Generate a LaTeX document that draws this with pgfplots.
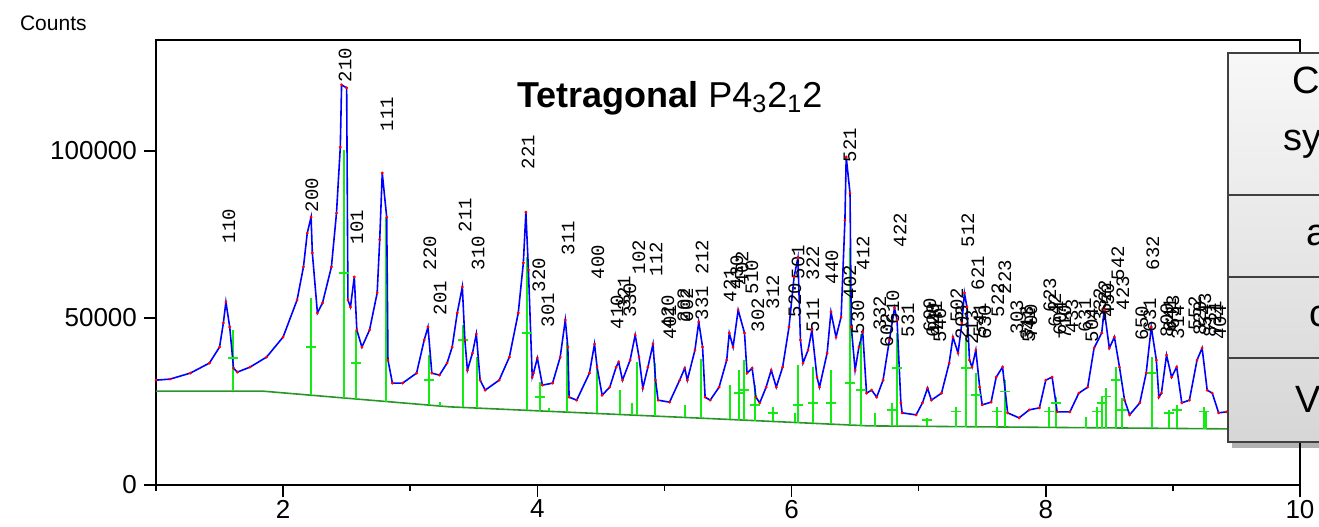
\documentclass[border=0pt]{standalone}
\usepackage{fontspec}
\setmainfont{Liberation Sans}
\newfontfamily\hklfont{Liberation Mono}
\usepackage{pgfplots}
\pgfplotsset{compat=1.18}
\usetikzlibrary{shadows}

\definecolor{calcblue}{RGB}{0,0,255}
\definecolor{obsred}{RGB}{255,0,0}
\definecolor{bggreen}{RGB}{40,150,40}
\definecolor{tickgreen}{RGB}{20,235,20}
\definecolor{tabline}{RGB}{64,64,64}

% hkl label placed at a pixel position of the original figure
\newcommand{\hkl}[3]{\node[hkl] at (rel axis cs:{(#1-156)/1144},{(485-#2)/445}) {#3};}

\begin{document}
\begin{tikzpicture}[hkl/.style={font=\hklfont\fontsize{9.5}{10}\selectfont, rotate=90, inner sep=0pt, anchor=center}]
\begin{axis}[
    name=ax,
    scale only axis, width=572pt, height=222.5pt,
    xmin=1, xmax=10, ymin=0, ymax=133233,
    axis line style={line width=1.25pt},
    tick style={black, line width=0.8pt},
    tick align=outside, major tick length=6pt, minor tick length=3pt,
    xtick={2,4,6,8,10}, minor xtick={1,3,5,7,9},
    xticklabels={2,4,6,8,10},
    ytick={0,50000,100000}, yticklabels={0,50000,100000},
    scaled y ticks=false,
    xtick pos=bottom, ytick pos=left,
    ticklabel style={font=\fontsize{13}{15}\selectfont},
    xticklabel style={yshift=2pt},
    clip=false,
    unbounded coords=jump,
]

% background
\addplot[bggreen, line width=0.8pt] coordinates {
(1.0,28100) (1.84,28100) (3.31,23400) (5.41,19800) (6.61,17700) (9.6,16750)};

% reflection positions
\addplot[tickgreen, line width=1pt] coordinates {
(1.605,28100) (1.605,46400) (1.605,nan)
(2.219,26900) (2.219,56000) (2.219,nan)
(2.478,26060) (2.478,100300) (2.478,nan)
(2.572,25760) (2.572,46400) (2.572,nan)
(2.808,25000) (2.808,80200) (2.808,nan)
(3.146,23925) (3.146,38900) (3.146,nan)
(3.233,23650) (3.233,25000) (3.233,nan)
(3.414,23220) (3.414,47900) (3.414,nan)
(3.524,23030) (3.524,38300) (3.524,nan)
(3.917,22360) (3.917,68300) (3.917,nan)
(4.019,22185) (4.019,30800) (4.019,nan)
(4.090,22060) (4.090,23000) (4.090,nan)
(4.231,21820) (4.231,42800) (4.231,nan)
(4.467,21420) (4.467,35900) (4.467,nan)
(4.648,21110) (4.648,28400) (4.648,nan)
(4.742,20950) (4.742,24600) (4.742,nan)
(4.782,20880) (4.782,36800) (4.782,nan)
(4.923,20635) (4.923,36500) (4.923,nan)
(5.159,20230) (5.159,24000) (5.159,nan)
(5.285,20015) (5.285,37700) (5.285,nan)
(5.513,19620) (5.513,30000) (5.513,nan)
(5.583,19500) (5.583,34400) (5.583,nan)
(5.623,19430) (5.623,37400) (5.623,nan)
(5.709,19280) (5.709,29900) (5.709,nan)
(5.851,19030) (5.851,23400) (5.851,nan)
(6.024,18730) (6.024,21600) (6.024,nan)
(6.047,18685) (6.047,35900) (6.047,nan)
(6.165,18480) (6.165,35300) (6.165,nan)
(6.314,18220) (6.314,34400) (6.314,nan)
(6.456,17970) (6.456,71000) (6.456,nan)
(6.550,17805) (6.550,45200) (6.550,nan)
(6.660,17685) (6.660,21600) (6.660,nan)
(6.794,17640) (6.794,24600) (6.794,nan)
(6.833,17630) (6.833,45500) (6.833,nan)
(7.069,17555) (7.069,20000) (7.069,nan)
(7.297,17480) (7.297,23400) (7.297,nan)
(7.376,17455) (7.376,44000) (7.376,nan)
(7.454,17430) (7.454,33500) (7.454,nan)
(7.619,17380) (7.619,23400) (7.619,nan)
(7.682,17360) (7.682,31400) (7.682,nan)
(8.028,17250) (8.028,23400) (8.028,nan)
(8.083,17230) (8.083,26300) (8.083,nan)
(8.319,17155) (8.319,20300) (8.319,nan)
(8.406,17125) (8.406,23400) (8.406,nan)
(8.445,17115) (8.445,26300) (8.445,nan)
(8.476,17105) (8.476,29000) (8.476,nan)
(8.555,17080) (8.555,35300) (8.555,nan)
(8.602,17065) (8.602,26000) (8.602,nan)
(8.838,16990) (8.838,38300) (8.838,nan)
(8.972,16950) (8.972,22500) (8.972,nan)
(9.035,16930) (9.035,24000) (9.035,nan)
(9.247,16860) (9.247,23400) (9.247,nan)
(9.263,16855) (9.263,21900) (9.263,nan)
};
\addplot[tickgreen, only marks, mark=-, mark size=2.5pt, mark options={line width=0.8pt}] coordinates {
(1.605,38000) (2.219,41300) (2.478,63500) (2.572,36500) (3.146,31400)
(3.414,43400) (3.917,45500) (4.019,26300) (5.583,27500) (5.623,28500)
(5.709,24000) (5.851,21500) (6.047,24000) (6.165,24500) (6.314,24500)
(6.456,30500) (6.550,28500) (6.794,22500) (6.833,35000) (7.069,19500)
(7.297,22000) (7.376,35000) (7.454,27000) (7.619,22000) (7.682,28000)
(8.028,22000) (8.083,24500) (8.406,22000) (8.445,24500) (8.476,26500)
(8.555,31500) (8.602,22500) (8.838,33500) (8.972,21500) (9.035,22500)
(9.247,22000)};

% observed (red) and calculated (blue) profile
\pgfplotstableread{
x y
1.00 31400
1.11 31700
1.27 33500
1.42 36500
1.50 41300
1.53 48500
1.55 54800
1.58 47300
1.61 35000
1.64 33800
1.74 35300
1.87 38300
2.00 44300
2.11 55400
2.16 65300
2.19 75400
2.22 80200
2.23 69500
2.27 51500
2.31 54500
2.38 65300
2.42 81400
2.45 101200
2.46 119800
2.50 118900
2.51 55400
2.53 53300
2.56 62300
2.58 46400
2.62 41300
2.68 46400
2.74 57500
2.76 73400
2.78 93400
2.815 80200
2.825 37400
2.86 30500
2.94 30500
3.05 33500
3.11 43400
3.14 47300
3.17 33500
3.23 32900
3.29 36500
3.33 41300
3.37 51500
3.41 59300
3.43 43400
3.45 34400
3.49 39500
3.52 45200
3.55 31400
3.59 28400
3.70 31400
3.78 38300
3.85 51500
3.89 66500
3.91 81700
3.93 64400
3.96 32300
3.97 33500
4.00 38000
4.04 29900
4.12 30500
4.18 38300
4.22 49400
4.24 41300
4.25 26300
4.31 25400
4.41 33500
4.45 42200
4.47 35300
4.51 26900
4.57 29300
4.62 35300
4.64 36800
4.67 31400
4.73 37400
4.77 44900
4.80 38300
4.83 29000
4.87 35300
4.91 42200
4.93 31400
4.95 25400
5.04 24800
5.12 31400
5.16 35000
5.18 31400
5.24 40400
5.27 48800
5.30 41300
5.32 26300
5.36 25400
5.43 29300
5.49 37400
5.51 45500
5.54 41300
5.58 52400
5.63 45500
5.65 33500
5.69 35000
5.72 26300
5.75 24600
5.80 29300
5.84 34400
5.88 29300
5.93 35300
5.98 47300
6.02 62300
6.05 68000
6.07 43400
6.09 36500
6.13 40400
6.16 46400
6.20 32300
6.22 29300
6.28 39500
6.31 51800
6.35 44300
6.39 50300
6.42 79300
6.43 98200
6.46 87400
6.47 47300
6.50 34400
6.53 41300
6.56 45800
6.59 27500
6.63 28400
6.67 26300
6.72 31400
6.77 43400
6.81 53000
6.83 49400
6.86 24600
6.87 21600
6.98 21000
7.03 24600
7.07 29000
7.10 25400
7.18 27500
7.24 36500
7.27 44300
7.31 39500
7.34 48500
7.36 57500
7.38 53300
7.40 37400
7.42 35300
7.45 40400
7.48 29300
7.50 24000
7.57 24800
7.61 32300
7.66 35300
7.70 21600
7.79 20100
7.87 22500
7.95 23100
8.00 31400
8.05 32300
8.09 21900
8.19 21900
8.26 27500
8.33 29300
8.38 41000
8.44 45500
8.46 52400
8.50 41000
8.54 44300
8.58 35300
8.62 25400
8.66 21000
8.74 24600
8.79 33500
8.83 47300
8.87 37400
8.89 26300
8.91 27500
8.95 38900
8.99 32300
9.03 35300
9.07 24600
9.13 25400
9.19 37400
9.23 41000
9.27 28400
9.31 27500
9.36 21600
9.42 21900
9.50 22500
}\profile
\addplot[obsred, only marks, mark=*, mark size=0.5pt] table {\profile};
\addplot[calcblue, line width=0.8pt] table {\profile};

% title and axis caption
\node[anchor=base west, font=\fontsize{18}{20}\selectfont] at (rel axis cs:{(510-156)/1144},{(485-107)/445})
    {\textbf{Tetragonal} P4\textsubscript{3}2\textsubscript{1}2};
\node[anchor=base west, font=\fontsize{10.5}{12}\selectfont] at (rel axis cs:{(13-156)/1144},{(485-30)/445}) {Counts};

% hkl labels
\hkl{229}{226}{110}
\hkl{312}{195}{200}
\hkl{345}{65}{210}
\hkl{357}{227}{101}
\hkl{387}{114}{111}
\hkl{430}{253}{220}
\hkl{440}{298}{201}
\hkl{465}{215}{211}
\hkl{478}{253}{310}
\hkl{528}{152}{221}
\hkl{539}{275}{320}
\hkl{548}{310}{301}
\hkl{568}{238}{311}
\hkl{598}{262}{400}
\hkl{617}{312}{410}
\hkl{624}{293}{321}
\hkl{630}{300}{330}
\hkl{639}{257}{102}
\hkl{656}{259}{112}
\hkl{668}{312}{420}
\hkl{670}{322}{401}
\hkl{684}{305}{202}
\hkl{687}{305}{002}
\hkl{702}{303}{331}
\hkl{702}{257}{212}
\hkl{730}{285}{421}
\hkl{737}{272}{430}
\hkl{742}{268}{402}
\hkl{752}{277}{510}
\hkl{758}{315}{302}
\hkl{773}{292}{312}
\hkl{795}{300}{520}
\hkl{798}{262}{501}
\hkl{813}{263}{322}
\hkl{813}{315}{511}
\hkl{832}{267}{440}
\hkl{850}{145}{521}
\hkl{850}{282}{402}
\hkl{858}{317}{530}
\hkl{863}{253}{412}
\hkl{880}{313}{332}
\hkl{887}{330}{602}
\hkl{893}{307}{610}
\hkl{900}{230}{422}
\hkl{908}{320}{531}
\hkl{930}{315}{600}
\hkl{933}{320}{620}
\hkl{936}{318}{441}
\hkl{940}{325}{540}
\hkl{957}{305}{502}
\hkl{962}{322}{203}
\hkl{968}{230}{512}
\hkl{978}{273}{621}
\hkl{972}{327}{213}
\hkl{980}{320}{541}
\hkl{985}{322}{630}
\hkl{998}{300}{522}
\hkl{1005}{277}{223}
\hkl{1017}{317}{303}
\hkl{1027}{323}{313}
\hkl{1029}{325}{541}
\hkl{1031}{321}{700}
\hkl{1050}{295}{623}
\hkl{1055}{310}{642}
\hkl{1060}{318}{604}
\hkl{1065}{322}{710}
\hkl{1072}{316}{433}
\hkl{1085}{315}{631}
\hkl{1092}{325}{504}
\hkl{1100}{305}{332}
\hkl{1105}{297}{622}
\hkl{1108}{300}{450}
\hkl{1118}{263}{542}
\hkl{1123}{293}{423}
\hkl{1142}{323}{650}
\hkl{1150}{315}{631}
\hkl{1153}{253}{632}
\hkl{1167}{320}{800}
\hkl{1170}{315}{641}
\hkl{1173}{312}{633}
\hkl{1178}{322}{314}
\hkl{1195}{313}{552}
\hkl{1200}{318}{820}
\hkl{1205}{310}{543}
\hkl{1210}{320}{811}
\hkl{1215}{318}{721}
\hkl{1220}{322}{404}
\end{axis}

% overlay table (cut by the right edge), in pixel units of the original
\begin{scope}[shift={(ax.south west)}, xshift=-78pt, yshift=242.5pt, x=0.5pt, y=-0.5pt]
  \path[drop shadow={shadow xshift=2pt, shadow yshift=-3pt, opacity=0.3, fill=black},
        top color=gray!6, bottom color=gray!32, draw=tabline, line width=0.9pt]
        (1228,53) rectangle (1420,442);
  \draw[tabline, line width=0.9pt] (1228,195) -- (1420,195)
        (1228,277) -- (1420,277) (1228,358) -- (1420,358);
  \node[anchor=base west, font=\fontsize{19}{21}\selectfont, inner sep=0pt] at (1292,93) {Crystal};
  \node[anchor=base west, font=\fontsize{19}{21}\selectfont, inner sep=0pt] at (1283,150) {system};
  \node[anchor=base west, font=\fontsize{19}{21}\selectfont, inner sep=0pt] at (1306,245) {a (Å)};
  \node[anchor=base west, font=\fontsize{19}{21}\selectfont, inner sep=0pt] at (1309,326) {c (Å)};
  \node[anchor=base west, font=\fontsize{19}{21}\selectfont, inner sep=0pt] at (1295,412) {V (Å\textsuperscript{3})};
  \pgfresetboundingbox
  \path (0,0) rectangle (1319,526);
\end{scope}
\end{tikzpicture}
\end{document}
